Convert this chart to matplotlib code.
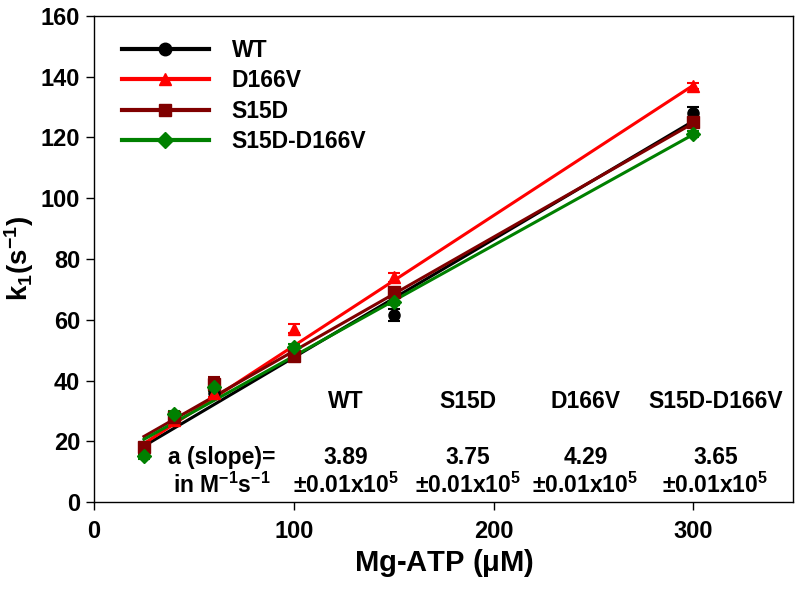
import numpy as np
import matplotlib
matplotlib.use("Agg")
import matplotlib.pyplot as plt

plt.rcParams['font.family'] = ['Liberation Sans', 'DejaVu Sans']
plt.rcParams['font.weight'] = 'bold'
plt.rcParams['mathtext.default'] = 'regular'

# Mg-ATP concentrations (uM)
atp = [25, 40, 60, 100, 150, 300]

# observed rates k1 (s^-1)
k_wt = [17, 28, 36, 49, 61.5, 128]
k_d166v = [17, 27, 36, 57, 74, 137]
k_s15d = [18, 28, 39, 48, 69, 125]
k_dbl = [15, 29, 38, 51, 66, 121]

err_wt = [1.5, 1.5, 2, 1.5, 2, 2]
err_d166v = [1, 1, 1.5, 1.5, 1.5, 1]
err_s15d = [1.5, 1.5, 2, 1.5, 1.5, 1.5]
err_dbl = [1, 1, 1.5, 1, 1, 1]

# linear fits (slope in uM^-1 s^-1, intercept in s^-1)
slopes = [0.389, 0.429, 0.375, 0.365]
intercepts = [8.7, 8.5, 12.2, 11.5]

names = ['WT', 'D166V', 'S15D', 'S15D-D166V']
colors = ['black', '#ff0000', '#800000', '#008000']
markers = ['o', '^', 's', 'D']

# slope table
table_cols = ['WT', 'S15D', 'D166V', 'S15D-D166V']
table_vals = ['3.89', '3.75', '4.29', '3.65']
table_x = [126, 187, 246, 311]

fig = plt.figure(figsize=(8, 5.92), dpi=100)
ax = fig.add_axes([0.1175, 0.152, 0.874, 0.821])

all_k = [k_wt, k_d166v, k_s15d, k_dbl]
all_err = [err_wt, err_d166v, err_s15d, err_dbl]
xfit = np.array([atp[0], atp[-1]])
for i in range(4):
    ax.plot(xfit, slopes[i] * xfit + intercepts[i], color=colors[i], lw=2.2, zorder=2)
    ax.errorbar(atp, all_k[i], yerr=all_err[i], fmt=markers[i], color=colors[i],
                ms=8 if markers[i] != 'D' else 7, capsize=4, elinewidth=1.5, capthick=1.5, zorder=3)

# legend proxies
handles = []
for i in range(4):
    h, = ax.plot([], [], color=colors[i], marker=markers[i], lw=3,
                 ms=9 if markers[i] != 'D' else 8)
    handles.append(h)
ax.legend(handles, names, loc='upper left', bbox_to_anchor=(0.01, 0.995), frameon=False,
          handlelength=3.8, fontsize=16.5, labelspacing=0.32, handletextpad=1.0)

ax.set_xlim(0, 350)
ax.set_ylim(0, 160)
ax.set_xticks([0, 100, 200, 300])
ax.set_yticks(range(0, 161, 20))
ax.tick_params(direction='out', length=6, width=1, labelsize=17, pad=4,
               top=False, right=False)
ax.tick_params(axis='x', pad=7)
for sp in ax.spines.values():
    sp.set_linewidth(1)

ax.set_xlabel('Mg-ATP ($\\mu$M)', fontsize=21, fontweight='bold', labelpad=3)
ax.set_ylabel('k$_1$(s$^{-1}$)', fontsize=20, fontweight='bold', labelpad=3)

fs = 16.5
for x, c, v in zip(table_x, table_cols, table_vals):
    ax.text(x, 33, c, ha='center', va='center', fontsize=fs, fontweight='bold')
    ax.text(x, 14.5, v, ha='center', va='center', fontsize=fs, fontweight='bold')
    ax.text(x, 5.5, '$\\pm$0.01x10$^5$', ha='center', va='center', fontsize=fs, fontweight='bold')
ax.text(64, 14.5, 'a (slope)=', ha='center', va='center', fontsize=fs, fontweight='bold')
ax.text(64, 5.5, 'in M$^{-1}$s$^{-1}$', ha='center', va='center', fontsize=fs, fontweight='bold')

fig.savefig('out.png', dpi=100)
